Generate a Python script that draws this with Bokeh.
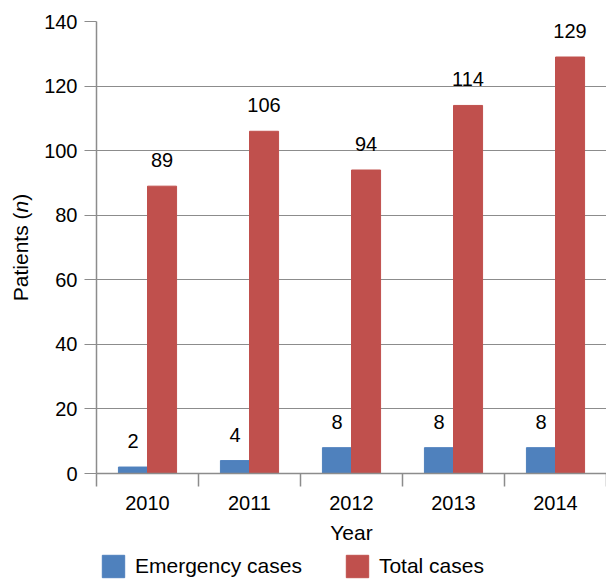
import numpy as np
from bokeh.plotting import figure
from bokeh.layouts import column, row
from bokeh.models import (Range1d, FixedTicker, Legend, LegendItem, Label,
                          ColumnDataSource)
from bokeh.embed import file_html
from bokeh.resources import INLINE
from bokeh.core.properties import value

# Patients per year
years = ["2010", "2011", "2012", "2013", "2014"]
emergency = [2, 4, 8, 8, 8]
total = [89, 106, 94, 114, 129]
y_ticks = [0, 20, 40, 60, 80, 100, 120, 140]
series_names = ["Emergency cases", "Total cases"]

FONT = "Liberation Sans"
BLUE = "#4F81BD"
RED = "#C0504D"
GRAY = "#8C8C8C"

pos = np.arange(len(years)) + 0.5
bar_w = 0.285

src = ColumnDataSource(dict(
    x_e=pos - bar_w / 2, x_t=pos + bar_w / 2,
    emergency=emergency, total=total,
    lab_e=[str(v) for v in emergency], lab_t=[str(v) for v in total],
))

TOP, BOTTOM = 21, 77
p = figure(width=566, height=550, x_range=Range1d(0, len(years)),
           y_range=Range1d(y_ticks[0], y_ticks[-1]),
           output_backend="svg", toolbar_location=None,
           min_border_left=56, min_border_right=0,
           min_border_top=TOP, min_border_bottom=BOTTOM)
p.outline_line_color = None
p.xgrid.grid_line_color = None
p.ygrid.grid_line_color = GRAY
p.ygrid.grid_line_width = 1.2

p.vbar(x="x_e", top="emergency", width=bar_w, source=src,
       fill_color=BLUE, line_color=BLUE)
p.vbar(x="x_t", top="total", width=bar_w, source=src,
       fill_color=RED, line_color=RED)

for xcol, ycol, lcol in (("x_e", "emergency", "lab_e"), ("x_t", "total", "lab_t")):
    p.text(x=xcol, y=ycol, text=lcol, source=src, text_align="center",
           text_baseline="alphabetic", y_offset=-26,
           text_font=value(FONT), text_font_size="20px", text_color="black")

# x axis: year labels at category centres, ticks at category boundaries
xa = p.xaxis[0]
xa.ticker = FixedTicker(ticks=list(pos), minor_ticks=list(range(len(years) + 1)))
xa.major_label_overrides = {float(x): y for x, y in zip(pos, years)}
xa.major_tick_line_color = None
xa.major_tick_out = 13
xa.major_tick_in = 0
xa.minor_tick_line_color = GRAY
xa.minor_tick_line_width = 1.5
xa.minor_tick_out = 13
xa.minor_tick_in = 0
xa.axis_line_color = GRAY
xa.axis_line_width = 1.5
xa.major_label_text_font = FONT
xa.major_label_text_font_size = "20px"
xa.major_label_text_color = "black"
xa.major_label_standoff = 9
xa.axis_label = "Year"
xa.axis_label_text_font = FONT
xa.axis_label_text_font_size = "21px"
xa.axis_label_text_font_style = "normal"
xa.axis_label_text_color = "black"
xa.axis_label_standoff = 8

ya = p.yaxis[0]
ya.ticker = FixedTicker(ticks=y_ticks)
ya.major_tick_line_color = GRAY
ya.major_tick_line_width = 1.2
ya.major_tick_out = 12
ya.major_tick_in = 0
ya.minor_tick_line_color = None
ya.axis_line_color = GRAY
ya.axis_line_width = 1.5
ya.major_label_text_font = FONT
ya.major_label_text_font_size = "20px"
ya.major_label_text_color = "black"
ya.major_label_standoff = 7

# y axis title "Patients (n)" with italic n, three rotated pieces in a side strip
ttl = figure(width=40, height=550, output_backend="svg", toolbar_location=None,
             x_axis_type=None, y_axis_type=None,
             min_border_left=0, min_border_right=0,
             min_border_top=TOP, min_border_bottom=BOTTOM,
             x_range=Range1d(0, 1), y_range=Range1d(y_ticks[0], y_ticks[-1]))
ttl.outline_line_color = None
ttl.grid.visible = False
pieces = [("Patients (", "normal", 4.224), ("n", "italic", 0.556), (")", "normal", 0.333)]
fs = 21
total_w = sum(w for _, _, w in pieces) * fs
mid = (y_ticks[0] + y_ticks[-1]) / 2
off = -total_w / 2
for txt, style, w in pieces:
    ttl.add_layout(Label(x=20, y=mid, x_units="screen", y_units="data",
                         y_offset=off, text=txt, angle=np.pi / 2,
                         text_align="left", text_baseline="middle",
                         text_font=FONT, text_font_size=f"{fs}px",
                         text_font_style=style, text_color="black"))
    off += w * fs

# legend strip under the chart
leg = figure(width=606, height=31, output_backend="svg", toolbar_location=None,
             x_axis_type=None, y_axis_type=None,
             min_border_left=96, min_border_right=0,
             min_border_top=0, min_border_bottom=0,
             x_range=Range1d(0, 1), y_range=Range1d(0, 1))
leg.outline_line_color = None
leg.grid.visible = False
key_e = leg.vbar(x="x_e", top="emergency", width=bar_w, source=src,
                 fill_color=BLUE, line_color=BLUE, visible=False)
key_t = leg.vbar(x="x_t", top="total", width=bar_w, source=src,
                 fill_color=RED, line_color=RED, visible=False)
legend = Legend(items=[LegendItem(label=series_names[0], renderers=[key_e]),
                       LegendItem(label=series_names[1], renderers=[key_t])],
                orientation="horizontal", location=(3, 1),
                glyph_width=28, glyph_height=28, label_standoff=8, spacing=41,
                padding=0, margin=0, border_line_color=None,
                background_fill_alpha=0,
                label_text_font=FONT, label_text_font_size="21px",
                label_text_color="black")
leg.add_layout(legend)

layout = column(row(ttl, p, spacing=0), leg, spacing=0)
open("out.html", "w").write(file_html(layout, INLINE))
